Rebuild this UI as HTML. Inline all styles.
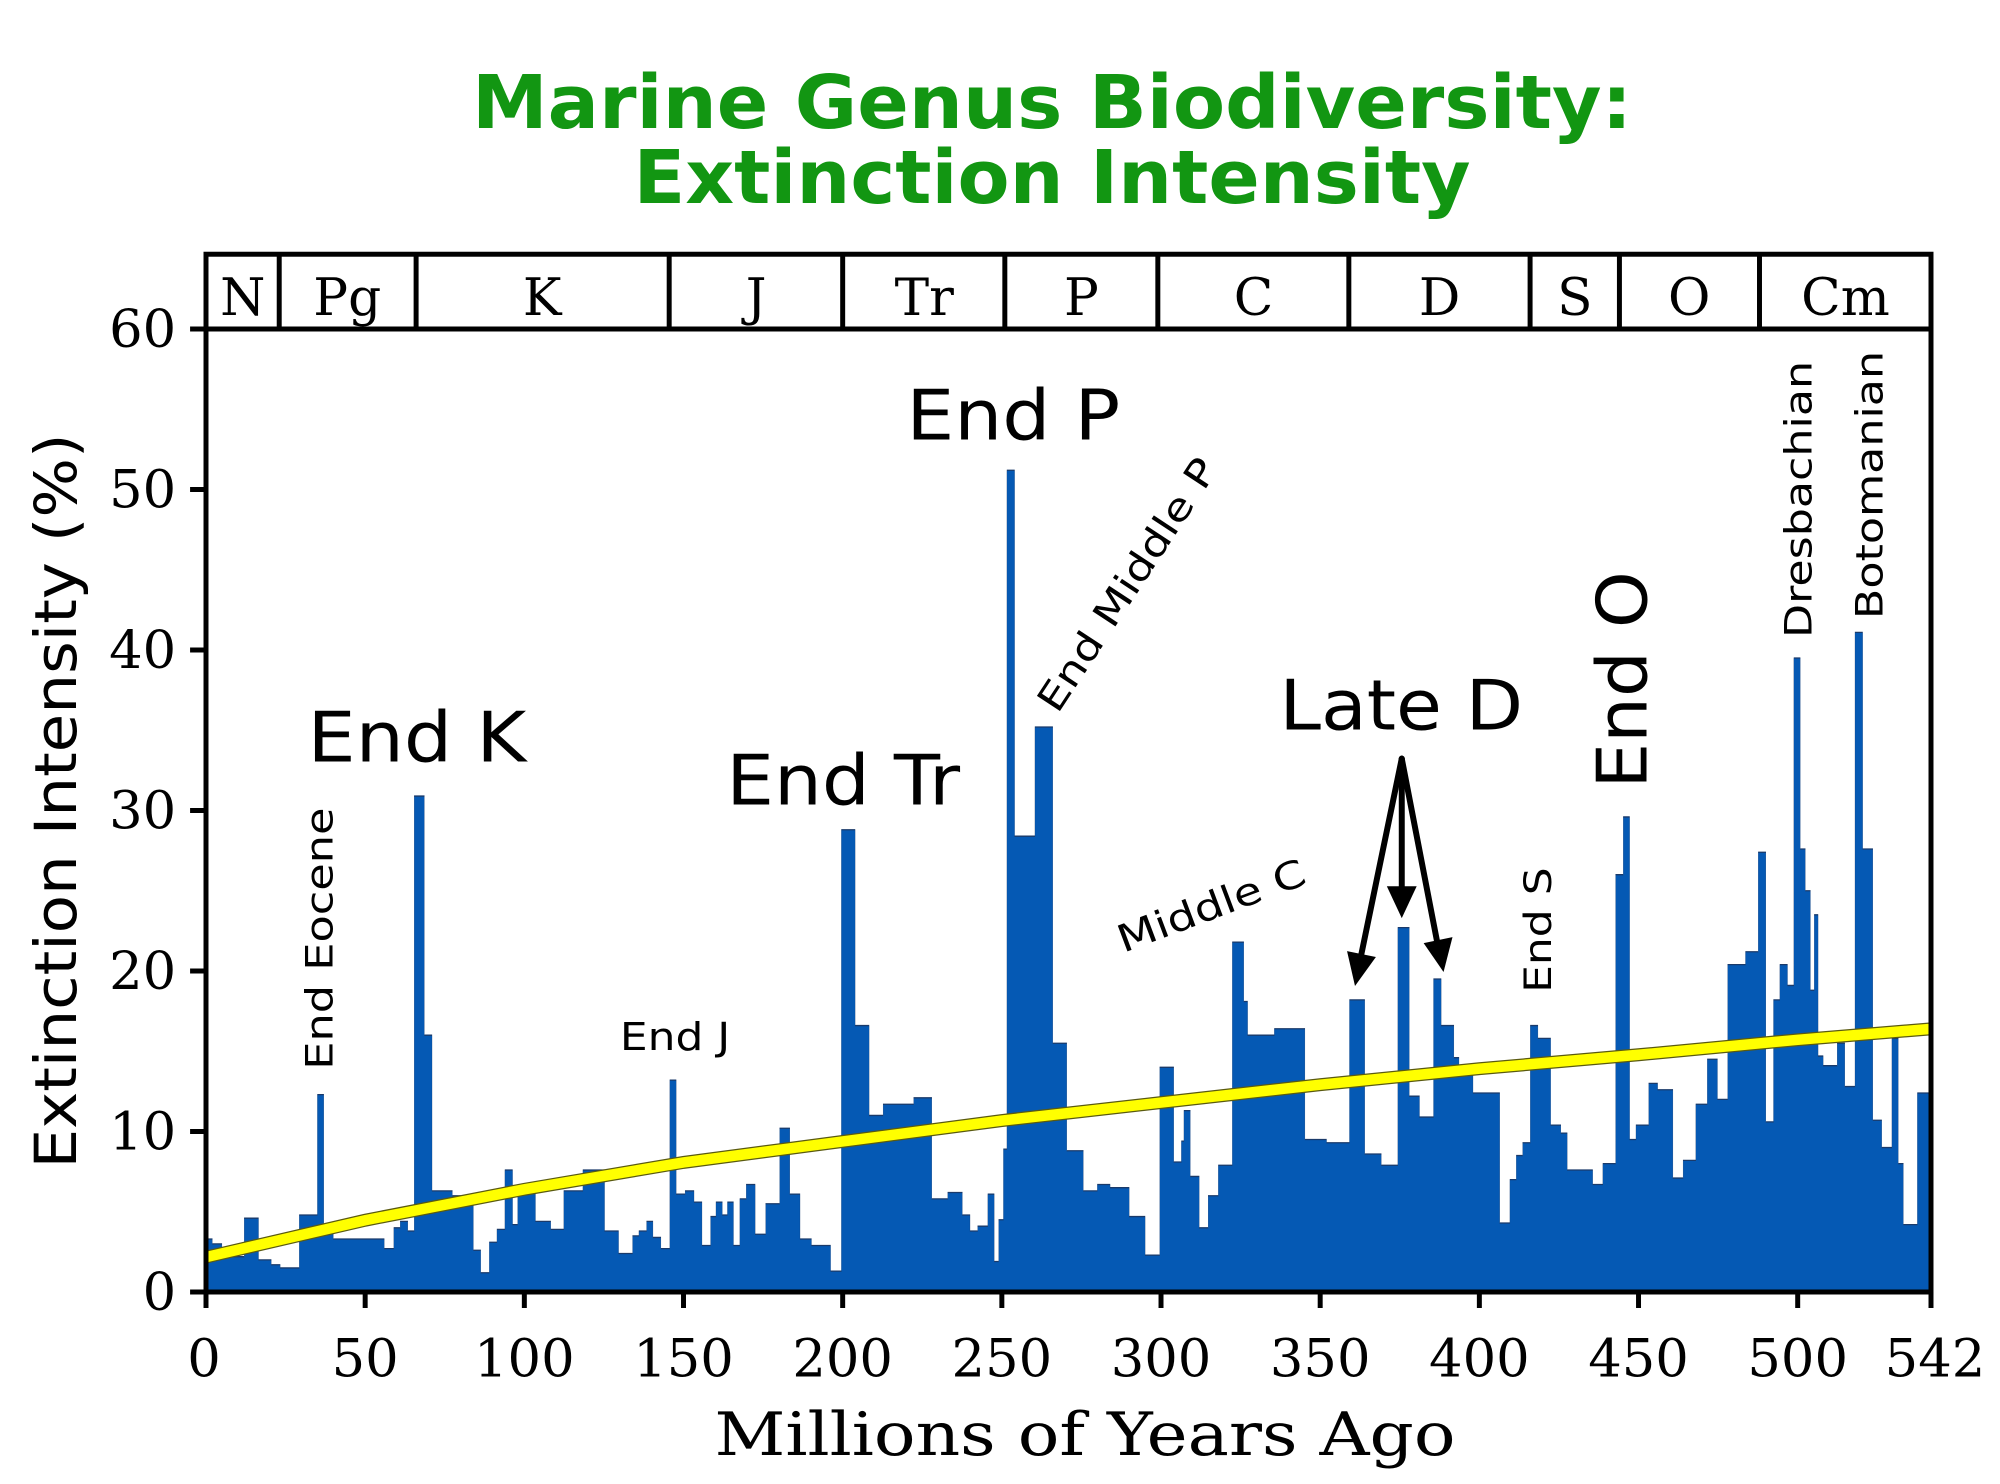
<!DOCTYPE html>
<html><head><meta charset="utf-8"><style>html,body{margin:0;padding:0;background:#fff}svg{display:block}</style></head>
<body>
<svg width="2000" height="1484" viewBox="0 0 2000 1484" xmlns="http://www.w3.org/2000/svg">
<rect width="2000" height="1484" fill="#fff"/>
<g font-family="'DejaVu Sans','Liberation Sans',sans-serif" font-weight="bold" fill="#129612" text-anchor="middle" font-size="74">
<text x="1052" y="128" textLength="1160" lengthAdjust="spacingAndGlyphs">Marine Genus Biodiversity:</text>
<text x="1052" y="203" textLength="837" lengthAdjust="spacingAndGlyphs">Extinction Intensity</text>
</g>
<text transform="translate(76,801) rotate(-90)" text-anchor="middle" font-family="'DejaVu Sans','Liberation Sans',sans-serif" font-size="58" textLength="735" lengthAdjust="spacingAndGlyphs">Extinction Intensity (%)</text>
<text x="1085" y="1455" text-anchor="middle" font-family="'DejaVu Serif','Liberation Serif',serif" font-size="60" textLength="741" lengthAdjust="spacingAndGlyphs">Millions of Years Ago</text>
<defs><clipPath id="c"><rect x="206" y="331" width="1734" height="966"/></clipPath></defs>
<g transform="matrix(0.99481,0,0,0.9969,1.069,-0.974)">
<g clip-path="url(#c)">
<path transform="translate(206,1297) scale(3.2,-16.1)" fill="#0559b4" stroke="#1a3a6a" stroke-width="0.08" d="M0 0V3.3H2V3H5V2.2H12V4.6H16.5V2H20.5V1.7H23.3V1.5H29.3V4.8H35V12.3H37V3.8H40V3.3H56V2.7H59V4H61V4.4H63.4V3.8H65.4V30.9H68.6V16H71V6.3H77.4V6H84V2.6H86.3V1.2H89V3.1H91.4V3.9H93.9V7.6H96.3V4.2H97.9V6.5H103.5V4.4H108.3V3.9H112.4V6.3H118.4V7.6H125.2V3.8H129.6V2.4H134V3.5H136V3.8H138.4V4.4H140.4V3.4H142.9V2.7H145.7V13.2H147.7V6.1H150.5V6.3H153.3V5.6H155.8V2.9H158.5V4.7H160.2V5.6H162.2V4.8H163.8V5.6H165.7V2.9H167.7V5.8H169.7V6.7H172.5V3.6H175.8V5.5H180.2V10.2H183.4V6.1H186.6V3.3H190.2V2.9H196.2V1.3H199.6V28.8H203.9V16.6H208.3V11H212.7V11.7H222.3V12.1H228V5.8H233V6.2H237.6V4.8H240V3.8H242.4V4.1H245.6V6.1H247.6V1.9H249V4.5H250.5V8.9H251.6V51.2H254V28.4H260.4V35.2H266V15.5H270.4V8.8H275.6V6.3H280V6.7H284V6.5H290V4.7H295V2.3H299.6V14H304V8.1H306.4V9.4H307.2V11.3H309.2V7.2H312V4H314.8V6H318V7.9H322.4V21.8H326V18.1H327.2V16H335.6V16.4H345.2V9.5H352V9.3H359.2V18.2H364V8.6H369.2V7.9H374.4V22.7H378V12.2H381.2V10.9H385.6V19.5H388V16.6H392V14.6H393.6V14H398V12.4H406.4V4.3H409.6V7H411.6V8.5H413.6V9.3H416V16.6H418.4V15.8H422.4V10.4H425.6V9.9H427.6V7.6H435.6V6.7H438.8V8H442.8V26H445.2V29.6H447.2V9.5H449.2V10.4H453.2V13H456V12.6H460.8V7.1H464V8.2H468V11.7H471.6V14.5H474.8V12H478V20.4H483.6V21.2H487.6V27.4H490V10.6H492.4V18.2H494.4V20.4H496.8V19.1H498.8V39.5H500.8V27.6H502.4V25H504V18.8H505.2V23.5H506.4V14.7H508V14.1H512.4V15.5H514.8V12.8H518V41.1H520.4V27.6H523.6V10.7H526.4V9H529.6V15.8H531.6V8H533.2V4.2H537.6V12.4H542V0Z"/>
<polyline fill="none" stroke="#5a5a10" stroke-width="13" points="206,1262 366,1225 526,1194 686,1167 846,1146 1006,1125 1166,1107 1326,1089 1486,1073 1646,1059 1806,1044 1940,1033"/>
<polyline fill="none" stroke="#ffff00" stroke-width="10.5" points="206,1262 366,1225 526,1194 686,1167 846,1146 1006,1125 1166,1107 1326,1089 1486,1073 1646,1059 1806,1044 1940,1033"/>
</g>
<g stroke="#000" stroke-width="5" fill="none">
<rect x="206" y="256" width="1734" height="1041"/>
<line x1="206" y1="331" x2="1940" y2="331"/>
<line x1="279.6" y1="256" x2="279.6" y2="331"/>
<line x1="417.2" y1="256" x2="417.2" y2="331"/>
<line x1="671.6" y1="256" x2="671.6" y2="331"/>
<line x1="846" y1="256" x2="846" y2="331"/>
<line x1="1009" y1="256" x2="1009" y2="331"/>
<line x1="1162.8" y1="256" x2="1162.8" y2="331"/>
<line x1="1354.8" y1="256" x2="1354.8" y2="331"/>
<line x1="1537" y1="256" x2="1537" y2="331"/>
<line x1="1626.8" y1="256" x2="1626.8" y2="331"/>
<line x1="1767.6" y1="256" x2="1767.6" y2="331"/>
<path d="M206 1297v16M366 1297v16M526 1297v16M686 1297v16M846 1297v16M1006 1297v16M1166 1297v16M1326 1297v16M1486 1297v16M1646 1297v16M1806 1297v16M1940 1297v16"/>
<path d="M206 1297h-16M206 1136h-16M206 975h-16M206 814h-16M206 653h-16M206 492h-16M206 331h-16"/>
</g>
<g font-family="'DejaVu Serif','Liberation Serif',serif" font-size="52" fill="#000" text-anchor="middle">
<text x="243" y="317">N</text><text x="348" y="317">Pg</text><text x="544" y="317">K</text><text x="759" y="317">J</text><text x="928" y="317">Tr</text><text x="1086" y="317">P</text><text x="1259" y="317">C</text><text x="1446" y="317">D</text><text x="1582" y="317">S</text><text x="1697" y="317">O</text><text x="1854" y="317">Cm</text>
<g font-size="53">
<text x="204" y="1382">0</text><text x="366" y="1382">50</text><text x="526" y="1382">100</text><text x="686" y="1382">150</text><text x="846" y="1382">200</text><text x="1006" y="1382">250</text><text x="1166" y="1382">300</text><text x="1326" y="1382">350</text><text x="1486" y="1382">400</text><text x="1646" y="1382">450</text><text x="1806" y="1382">500</text><text x="1944" y="1382">542</text>
</g>
<g font-size="53" text-anchor="end">
<text x="176" y="1315">0</text><text x="176" y="1154">10</text><text x="176" y="993">20</text><text x="176" y="832">30</text><text x="176" y="671">40</text><text x="176" y="510">50</text><text x="176" y="349">60</text>
</g>
</g>
<g font-family="'DejaVu Sans','Liberation Sans',sans-serif" fill="#000">
<g font-size="70">
<text x="308" y="765" textLength="220" lengthAdjust="spacingAndGlyphs">End K</text>
<text x="729" y="808" textLength="235" lengthAdjust="spacingAndGlyphs">End Tr</text>
<text x="910" y="442" textLength="215" lengthAdjust="spacingAndGlyphs">End P</text>
<text x="1285" y="733" textLength="245" lengthAdjust="spacingAndGlyphs">Late D</text>
<text transform="translate(1654,792) rotate(-90)" textLength="218" lengthAdjust="spacingAndGlyphs">End O</text>
</g>
<g font-size="38">
<text transform="translate(333,1074) rotate(-90)" textLength="263" lengthAdjust="spacingAndGlyphs">End Eocene</text>
<text x="622" y="1054" textLength="111" lengthAdjust="spacingAndGlyphs">End J</text>
<text transform="translate(1062,718) rotate(-56.7)" textLength="295" lengthAdjust="spacingAndGlyphs">End Middle P</text>
<text transform="translate(1128,957) rotate(-20.6)" textLength="199" lengthAdjust="spacingAndGlyphs">Middle C</text>
<text transform="translate(1558,997) rotate(-90)" textLength="126" lengthAdjust="spacingAndGlyphs">End S</text>
<text transform="translate(1820,641) rotate(-90)" textLength="278" lengthAdjust="spacingAndGlyphs">Dresbachian</text>
<text transform="translate(1891,622) rotate(-90)" textLength="269" lengthAdjust="spacingAndGlyphs">Botomanian</text>
</g>
</g>
<g stroke="#000" stroke-width="6" fill="none" stroke-linecap="round">
<line x1="1408" y1="762" x2="1367" y2="960"/>
<line x1="1408" y1="762" x2="1408" y2="895"/>
<line x1="1408" y1="762" x2="1444" y2="948"/>
</g>
<g fill="#000">
<polygon points="1361,990 1353,955 1382,961"/>
<polygon points="1408,922 1393,890 1423,890"/>
<polygon points="1450,976 1430,947 1459,941"/>
</g>
</g>
</svg>
</body></html>
